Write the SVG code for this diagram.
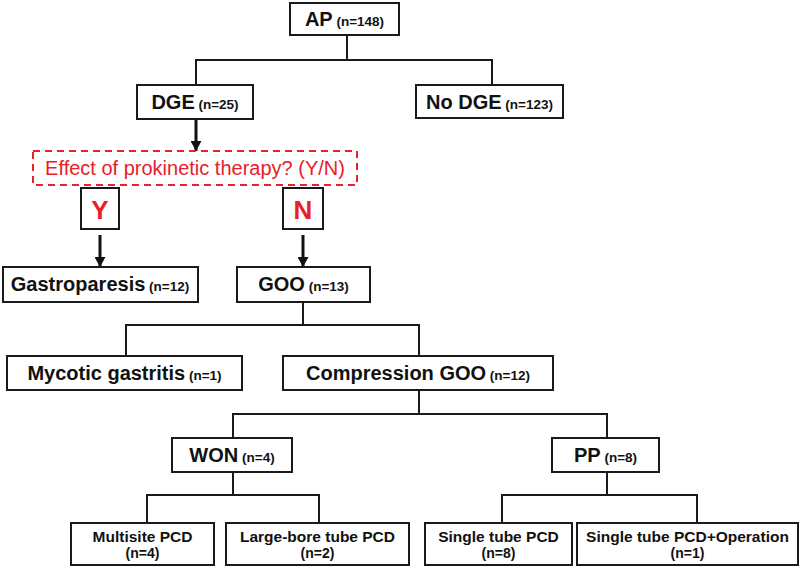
<svg xmlns="http://www.w3.org/2000/svg" width="800" height="568" viewBox="0 0 800 568">
<style>
  .box { fill: #ffffff; stroke: #1a1a1a; stroke-width: 2; }
  .dash { fill: #ffffff; stroke: #e8202a; stroke-width: 2; stroke-dasharray: 7 5; }
  .t { font-family: "Liberation Sans", Arial, sans-serif; font-weight: bold; fill: #111111; text-anchor: middle; }
  .main { font-size: 20px; }
  .sub { font-size: 13.5px; }
  .leaf { font-size: 15.5px; }
  .leafsub { font-size: 14px; }
  .red { font-family: "Liberation Sans", Arial, sans-serif; fill: #e8202a; text-anchor: middle; }
  .conn { fill: none; stroke: #1a1a1a; stroke-width: 2; }
  .arr { fill: none; stroke: #111111; stroke-width: 3; marker-end: url(#ah); }
</style>
<defs>
  <marker id="ah" markerUnits="userSpaceOnUse" markerWidth="11" markerHeight="11" refX="10" refY="5.5" orient="auto">
    <path d="M0,0 L10,5.5 L0,11 z" fill="#111111"/>
  </marker>
</defs>
<rect width="800" height="568" fill="#ffffff"/>

<g id="connectors">
  <path class="conn" d="M347,35 V60 M196,85 V60 H492 V85"/>
  <path class="arr" d="M196,119 V151"/>
  <path class="arr" d="M100,235 V267"/>
  <path class="arr" d="M303,235 V267"/>
  <path class="conn" d="M303,302 V325 M126,356 V325 H419 V356"/>
  <path class="conn" d="M419,390 V414 M233,438 V414 H607 V438"/>
  <path class="conn" d="M233,472 V495 M147,523 V495 H319 V523"/>
  <path class="conn" d="M607,472 V495 M502,523 V495 H697 V523"/>
</g>

<g id="ap">
  <rect class="box" x="290" y="3" width="109" height="32"/>
  <text class="t main" x="344.5" y="26">AP<tspan class="sub"> (n=148)</tspan></text>
</g>
<g id="dge">
  <rect class="box" x="137" y="85" width="116" height="34"/>
  <text class="t main" x="195" y="109">DGE<tspan class="sub"> (n=25)</tspan></text>
</g>
<g id="nodge">
  <rect class="box" x="416" y="85" width="147" height="33"/>
  <text class="t main" x="489.5" y="109">No DGE<tspan class="sub"> (n=123)</tspan></text>
</g>
<g id="question">
  <rect class="dash" x="33" y="151" width="324" height="34"/>
  <text class="red" x="195" y="175" font-size="20">Effect of prokinetic therapy? (Y/N)</text>
</g>
<g id="yes">
  <rect class="box" x="81" y="188" width="38" height="41"/>
  <text class="red" x="100" y="219" font-size="26" font-weight="bold">Y</text>
</g>
<g id="no">
  <rect class="box" x="283" y="188" width="40" height="41"/>
  <text class="red" x="303" y="219" font-size="26" font-weight="bold">N</text>
</g>
<g id="gastroparesis">
  <rect class="box" x="3" y="267" width="195" height="35"/>
  <text class="t main" x="100" y="291">Gastroparesis<tspan class="sub"> (n=12)</tspan></text>
</g>
<g id="goo">
  <rect class="box" x="237" y="267" width="133" height="35"/>
  <text class="t main" x="303.5" y="291">GOO<tspan class="sub"> (n=13)</tspan></text>
</g>
<g id="mycotic">
  <rect class="box" x="7" y="356" width="235" height="34"/>
  <text class="t main" x="124.5" y="380">Mycotic gastritis<tspan class="sub"> (n=1)</tspan></text>
</g>
<g id="compression">
  <rect class="box" x="283" y="356" width="270" height="34"/>
  <text class="t main" x="418" y="380">Compression GOO<tspan class="sub"> (n=12)</tspan></text>
</g>
<g id="won">
  <rect class="box" x="172" y="438" width="120" height="34"/>
  <text class="t main" x="232" y="462">WON<tspan class="sub"> (n=4)</tspan></text>
</g>
<g id="pp">
  <rect class="box" x="552" y="438" width="107" height="34"/>
  <text class="t main" x="605.5" y="462">PP<tspan class="sub"> (n=8)</tspan></text>
</g>
<g id="multisite">
  <rect class="box" x="71" y="523" width="143" height="42"/>
  <text class="t leaf" x="142.5" y="542">Multisite PCD</text>
  <text class="t leafsub" x="142.5" y="558">(n=4)</text>
</g>
<g id="largebore">
  <rect class="box" x="226" y="523" width="183" height="42"/>
  <text class="t leaf" x="317.5" y="542">Large-bore tube PCD</text>
  <text class="t leafsub" x="317.5" y="558">(n=2)</text>
</g>
<g id="singletube">
  <rect class="box" x="425" y="523" width="147" height="42"/>
  <text class="t leaf" x="498.5" y="542">Single tube PCD</text>
  <text class="t leafsub" x="498.5" y="558">(n=8)</text>
</g>
<g id="singletubeop">
  <rect class="box" x="577" y="523" width="221" height="42"/>
  <text class="t leaf" x="687.5" y="542">Single tube PCD+Operation</text>
  <text class="t leafsub" x="687.5" y="558">(n=1)</text>
</g>
</svg>
